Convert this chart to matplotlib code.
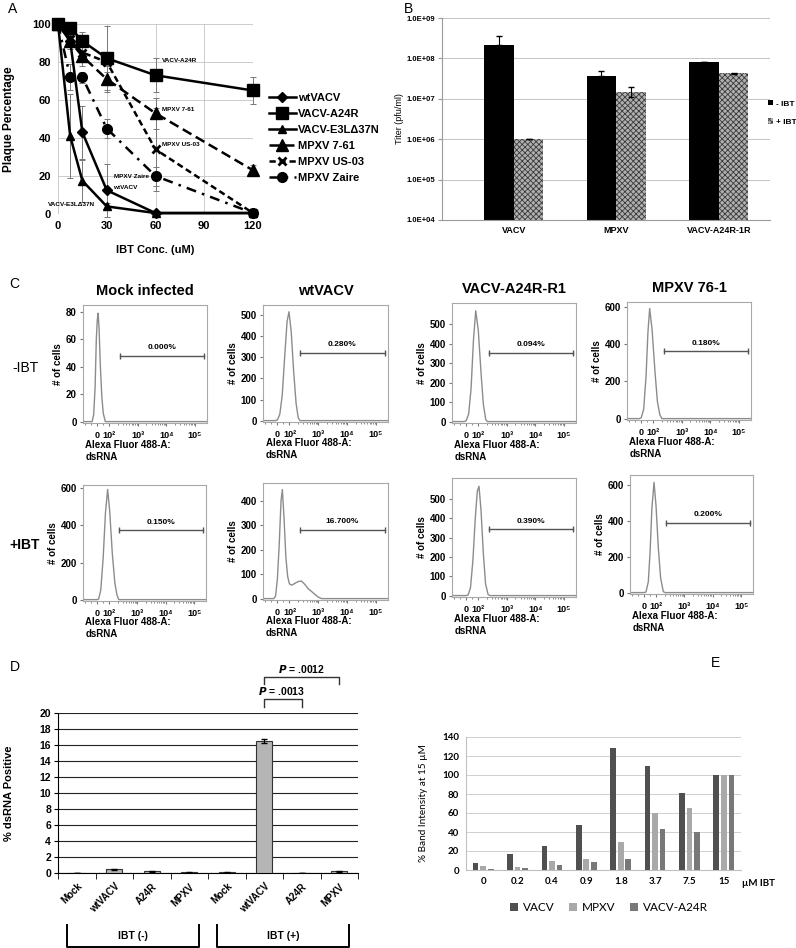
import numpy as np
import matplotlib
matplotlib.use('Agg')
import matplotlib.pyplot as plt
from matplotlib.ticker import FuncFormatter
from matplotlib.patches import Patch

plt.rcParams.update({
    'font.family': ['Liberation Sans', 'DejaVu Sans'],
    'font.weight': 'bold',
    'axes.titleweight': 'bold',
    'axes.labelweight': 'bold',
    'hatch.linewidth': 0.6,
})

# ---- panel A: plaque percentage vs IBT ----
ibt_conc = [0, 7.5, 15, 30, 60, 120]
wt_vacv = [100, 91, 43, 12.5, 0.5, 0.5]
wt_vacv_err = [0, 3, 14, 14, 0, 0]
vacv_a24r = [100, 98, 91, 82, 73, 65]
vacv_a24r_err = [0, 2, 5, 17, 9, 7]
vacv_e3l = [100, 41, 17.5, 4, 0.5, 0.5]
vacv_e3l_err = [0, 22, 11, 2, 0, 0]
mpxv_761 = [100, 91, 83, 71, 53, 23]
mpxv_761_err = [0, 4, 5, 7, 8, 3]
mpxv_us03 = [100, 92, 85, 80, 34, 0.5]
mpxv_us03_err = [0, 3, 4, 5, 22, 0]
mpxv_zaire = [100, 72, 72, 45, 20, 0.5]
mpxv_zaire_err = [0, 7, 3, 5, 5, 0]

# ---- panel B: titers ----
titer_groups = ['VACV', 'MPXV', 'VACV-A24R-1R']
titer_minus = [2.2e8, 3.6e7, 8.0e7]
titer_minus_err = [1.3e8, 1.4e7, 3e6]
titer_plus = [1.0e6, 1.5e7, 4.3e7]
titer_plus_err_lo = [0, 4e6, 1.5e6]
titer_plus_err_hi = [0, 5e6, 1.5e6]

# ---- panel C: flow histograms (x = fluorescence, n = # of cells) ----
flow_titles = ['Mock infected', 'wtVACV', 'VACV-A24R-R1', 'MPXV 76-1']
mock_neg_x = [-120, -43, -30, -18, -8, 0, 7, 15, 25, 38, 50, 67, 262144]
mock_neg_n = [0, 0, 5, 25, 60, 74, 79, 68, 42, 18, 6, 0, 0]
wt_neg_x = [-120, -20, 0, 20, 40, 60, 80, 96, 115, 140, 170, 200, 230, 262144]
wt_neg_n = [0, 0, 3, 30, 120, 300, 470, 516, 420, 230, 80, 15, 0, 0]
a24r_neg_x = [-120, -15, 0, 20, 40, 60, 79, 100, 125, 150, 183, 210, 262144]
a24r_neg_n = [0, 0, 5, 40, 170, 420, 570, 470, 250, 90, 10, 0, 0]
mpxv_neg_x = [-120, -15, 0, 20, 40, 55, 70, 90, 115, 140, 170, 200, 262144]
mpxv_neg_n = [0, 0, 5, 50, 230, 460, 593, 480, 250, 90, 20, 0, 0]
mock_pos_x = [-120, 0, 12, 30, 50, 70, 88, 105, 130, 160, 190, 220, 262144]
mock_pos_n = [0, 0, 3, 50, 220, 470, 594, 480, 250, 90, 25, 0, 0]
wt_pos_x = [-120, -30, -15, 0, 15, 30, 41, 55, 70, 85, 100, 120, 150, 200,
            259, 330, 450, 575, 750, 1000, 1300, 262144]
wt_pos_n = [0, 0, 10, 80, 220, 400, 447, 330, 170, 90, 60, 55, 62, 70,
            72, 60, 40, 30, 18, 6, 0, 0]
a24r_pos_x = [-120, 0, 15, 35, 55, 75, 92, 106, 125, 150, 180, 221, 260, 262144]
a24r_pos_n = [0, 0, 3, 40, 180, 400, 540, 565, 440, 220, 60, 5, 0, 0]
mpxv_pos_x = [-120, 0, 15, 35, 50, 65, 83, 100, 120, 145, 180, 210, 262144]
mpxv_pos_n = [0, 0, 3, 60, 230, 470, 613, 480, 250, 80, 5, 0, 0]
gate_x = [230, 2.0e5]
gate_level = [48, 322, 355, 363, 373, 282, 342, 387]
gate_pct = ['0.000%', '0.280%', '0.094%', '0.180%',
            '0.150%', '16.700%', '0.390%', '0.200%']

# ---- panel D: % dsRNA positive ----
ds_labels = ['Mock', 'wtVACV', 'A24R', 'MPXV', 'Mock', 'wtVACV', 'A24R', 'MPXV']
ds_values = [0.0, 0.45, 0.2, 0.08, 0.08, 16.5, 0.04, 0.2]
ds_err = [0.0, 0.05, 0.05, 0.02, 0.02, 0.2, 0.01, 0.05]

# ---- panel E: band intensity ----
band_conc = ['0', '0.2', '0.4', '0.9', '1.8', '3.7', '7.5', '15']
band_vacv = [7, 17, 25, 47, 128, 110, 81, 100]
band_mpxv = [4.5, 3, 10, 12, 30, 60, 65, 100]
band_a24r = [1.5, 2.5, 5, 8, 12, 43, 40, 100]

W, H = 796, 948
fig = plt.figure(figsize=(W / 100, H / 100), dpi=100)


def box(l, t, r, b):
    return [l / W, 1 - b / H, (r - l) / W, (b - t) / H]


def letter(x, y, s):
    fig.text(x / W, 1 - y / H, s, fontsize=10, fontweight='normal', va='center', ha='left')


letter(8, 9, 'A')
letter(404, 9, 'B')
letter(9, 284, 'C')
letter(10, 667, 'D')
letter(711, 663, 'E')

# ================= A =================
ax = fig.add_axes(box(58, 24, 253, 214))
a_series = [
    (wt_vacv, wt_vacv_err, 'wtVACV', 'D', 5.5, '-'),
    (vacv_a24r, vacv_a24r_err, 'VACV-A24R', 's', 8, '-'),
    (vacv_e3l, vacv_e3l_err, 'VACV-E3L\u039437N', '^', 5.5, '-'),
    (mpxv_761, mpxv_761_err, 'MPXV 7-61', '^', 8, (0, (4, 2))),
    (mpxv_us03, mpxv_us03_err, 'MPXV US-03', 'x', 6, (0, (2.5, 1.5))),
    (mpxv_zaire, mpxv_zaire_err, 'MPXV Zaire', 'o', 7, (0, (4, 2.5, 1, 2.5))),
]
for vals, err, name, mk, ms, ls in a_series:
    ax.errorbar(ibt_conc, vals, yerr=err, fmt='none', ecolor='#777777',
                elinewidth=0.7, capsize=2, capthick=0.7, clip_on=False)
for vals, err, name, mk, ms, ls in a_series:
    ax.plot(ibt_conc, vals, color='black', lw=1.8, linestyle=ls, marker=mk, ms=ms,
            mew=2 if mk == 'x' else 1, clip_on=False, label=name, zorder=3)
ax.set_xlim(0, 120)
ax.set_ylim(0, 100)
ax.set_xticks([0, 30, 60, 90, 120])
ax.set_yticks([0, 20, 40, 60, 80, 100])
ax.grid(color='#c4c4c4', lw=0.6)
for s in ax.spines.values():
    s.set_visible(False)
ax.tick_params(length=0, labelsize=8, pad=5)
ax.set_xlabel('IBT Conc. (uM)', fontsize=8, labelpad=10)
ax.set_ylabel('Plaque Percentage', fontsize=8.5)
ax.yaxis.set_label_coords(-0.22, 0.5)
ax.legend(loc='center left', bbox_to_anchor=(1.03, 0.4), frameon=False, fontsize=8,
          handlelength=2.4, handletextpad=0.25, labelspacing=0.55)
small = dict(fontsize=4.6, fontweight='bold')
ax.text(64, 80, 'VACV-A24R', **small)
ax.text(64, 54, 'MPXV 7-61', **small)
ax.text(64, 36, 'MPXV US-03', **small)
ax.text(56, 20, 'MPXV Zaire', ha='right', va='center', **small)
ax.text(34, 13, 'wtVACV', **small)
ax.text(-6, 4, 'VACV-E3L\u039437N', **small)

# ================= B =================
ax = fig.add_axes(box(442, 18, 770, 220))
ax.set_yscale('log')
xb = np.arange(len(titer_groups))
bw = 0.29
ax.bar(xb - bw / 2, titer_minus, bw, color='black', zorder=2)
ax.bar(xb + bw / 2, titer_plus, bw, color='#b0b0b0', edgecolor='#3a3a3a', hatch='xxxxxx',
       lw=0, zorder=2)
ax.errorbar(xb - bw / 2, titer_minus, yerr=[[0] * 3, titer_minus_err], fmt='none',
            ecolor='black', elinewidth=0.8, capsize=2, zorder=3)
ax.errorbar(xb + bw / 2, titer_plus, yerr=[titer_plus_err_lo, titer_plus_err_hi], fmt='none',
            ecolor='black', elinewidth=0.8, capsize=2, zorder=3)
ax.set_ylim(1e4, 1e9)
ax.set_xlim(-0.7, 2.5)
ax.set_yticks([1e4, 1e5, 1e6, 1e7, 1e8, 1e9])
ax.yaxis.set_minor_locator(plt.NullLocator())
ax.yaxis.set_major_formatter(FuncFormatter(lambda v, p: f'{v:.1E}'))
ax.set_xticks(xb)
ax.set_xticklabels(titer_groups)
ax.grid(axis='y', color='#c4c4c4', lw=0.7, zorder=0)
for s in ('top', 'right'):
    ax.spines[s].set_visible(False)
for s in ('left', 'bottom'):
    ax.spines[s].set_color('#9a9a9a')
ax.tick_params(axis='y', labelsize=5.5, length=3, color='#9a9a9a', pad=2)
ax.tick_params(axis='x', labelsize=6.5, length=0, pad=4)
ax.set_ylabel('Titer (pfu/ml)', fontsize=6.5, fontweight='normal')
ax.yaxis.set_label_coords(-0.115, 0.5)
ax.legend(handles=[Patch(facecolor='black', label='- IBT'),
                   Patch(facecolor='#b0b0b0', edgecolor='#3a3a3a', hatch='xxxxxx', lw=0,
                         label='+ IBT')],
          loc='center left', bbox_to_anchor=(0.99, 0.53), frameon=False, fontsize=6,
          handlelength=0.6, handleheight=0.6, handletextpad=0.3, labelspacing=1.3,
          borderpad=0, borderaxespad=0.2)

# ================= C =================
flow_data = [
    (mock_neg_x, mock_neg_n), (wt_neg_x, wt_neg_n), (a24r_neg_x, a24r_neg_n),
    (mpxv_neg_x, mpxv_neg_n), (mock_pos_x, mock_pos_n), (wt_pos_x, wt_pos_n),
    (a24r_pos_x, a24r_pos_n), (mpxv_pos_x, mpxv_pos_n),
]
flow_boxes = [
    ((83, 305, 207, 423), [0, 20, 40, 60, 80], 85),
    ((263, 305, 388, 422), [0, 100, 200, 300, 400, 500], 548),
    ((452, 303, 576, 423), [0, 100, 200, 300, 400, 500], 610),
    ((627, 302, 751, 420), [0, 200, 400, 600], 628),
    ((83, 485, 206, 601), [0, 200, 400, 600], 618),
    ((263, 483, 388, 600), [0, 100, 200, 300, 400], 474),
    ((452, 478, 576, 597), [0, 100, 200, 300, 400, 500], 608),
    ((630, 475, 753, 594), [0, 200, 400, 600], 654),
]
minor_x = [-100, -50, 50] + [m * 10 ** e for e in (2, 3, 4) for m in range(2, 10)]
for i, ((hx, hn), (rect, yt, ytop)) in enumerate(zip(flow_data, flow_boxes)):
    ax = fig.add_axes(box(*rect))
    ax.plot(hx, hn, color='#8c8c8c', lw=1.0)
    ax.set_xscale('symlog', linthresh=100, linscale=0.378)
    ax.set_xlim(-120, 262144)
    ax.set_ylim(-0.012 * ytop, ytop)
    ax.set_xticks([0, 1e2, 1e3, 1e4, 1e5])
    ax.set_xticklabels(['0', '10\u00b2', '10\u00b3', '10\u2074', '10\u2075'])
    ax.set_xticks(minor_x, minor=True)
    ax.set_yticks(yt)
    for s in ax.spines.values():
        s.set_color('#a8a8a8')
        s.set_linewidth(0.8)
    ax.tick_params(labelsize=7, length=2.5, color='#777777', pad=2)
    ax.tick_params(axis='x', labelsize=6.5, pad=3)
    ax.tick_params(which='minor', length=1.5, color='#777777')
    gl = gate_level[i]
    ax.plot(gate_x, [gl, gl], color='#555555', lw=1.0, marker='|', ms=5, mew=1.0)
    ax.text(np.sqrt(gate_x[0] * gate_x[1]), gl + 0.04 * ytop, gate_pct[i],
            ha='center', va='bottom', fontsize=6)
    ax.set_ylabel('# of cells', fontsize=7, labelpad=2)
    ax.text(0.02, -0.14, 'Alexa Fluor 488-A:\ndsRNA', transform=ax.transAxes,
            ha='left', va='top', fontsize=7, linespacing=1.25)
    if i < 4:
        ax.set_title(flow_titles[i], fontsize=10.5, pad=7)
fig.text(12 / W, 1 - 368 / H, '-IBT', fontsize=10, fontweight='normal', va='center')
fig.text(9 / W, 1 - 545 / H, '+IBT', fontsize=10, va='center')

# ================= D =================
ax = fig.add_axes(box(58, 713, 358, 873))
xd = np.arange(len(ds_values))
ax.bar(xd, ds_values, 0.43, color='#b5b5b5', edgecolor='#333333', lw=0.8, zorder=3)
ax.errorbar(xd, ds_values, yerr=ds_err, fmt='none', ecolor='black', elinewidth=0.8,
            capsize=2, zorder=4)
ax.set_xlim(-0.5, 7.5)
ax.set_ylim(0, 20)
ax.set_yticks(range(0, 21, 2))
ax.grid(axis='y', color='#222222', lw=0.8, zorder=0)
ax.set_xticks(xd)
ax.set_xticklabels(ds_labels, rotation=45, ha='right', rotation_mode='anchor')
ax.set_xticks(np.arange(-0.5, 8, 1), minor=True)
for s in ('top', 'right'):
    ax.spines[s].set_visible(False)
ax.tick_params(axis='x', which='major', length=0, labelsize=7, pad=6)
ax.tick_params(axis='x', which='minor', length=4)
ax.tick_params(axis='y', labelsize=7.5, length=3, pad=2)
ax.set_ylabel('% dsRNA Positive', fontsize=8)
ax.yaxis.set_label_coords(-0.145, 0.5)
# significance brackets
ax.plot([5, 5, 6, 6], [20.75, 21.75, 21.75, 20.75], color='#333333', lw=1, clip_on=False)
ax.plot([5, 5, 7, 7], [23.6, 24.5, 24.5, 23.6], color='#333333', lw=1, clip_on=False)
ax.text(5.45, 22.0, r'$\bfit{P}$ = .0013', ha='center', va='bottom', fontsize=7.5)
ax.text(6.0, 24.75, r'$\bfit{P}$ = .0012', ha='center', va='bottom', fontsize=7.5)
# treatment brackets
for g0, g1, lab in [(0, 3, 'IBT (-)'), (4, 7, 'IBT (+)')]:
    ax.plot([g0 - 0.27, g0 - 0.27, g1 + 0.26, g1 + 0.26], [-6.5, -9.25, -9.25, -6.5],
            color='black', lw=1.4, clip_on=False)
    ax.text((g0 + g1) / 2, -7.9, lab, ha='center', va='center', fontsize=7.5)

# ================= E =================
ax = fig.add_axes(box(466, 737, 741, 870))
xe = np.arange(len(band_conc))
pitch = 0.22
bwe = 0.165
e_colors = ['#505050', '#a9a9a9', '#787878']
for k, (vals, name) in enumerate([(band_vacv, 'VACV'), (band_mpxv, 'MPXV'),
                                  (band_a24r, 'VACV-A24R')]):
    ax.bar(xe + (k - 1) * pitch, vals, bwe, color=e_colors[k], label=name, zorder=3)
ax.set_xlim(-0.5, 7.5)
ax.set_ylim(0, 140)
ax.set_yticks(range(0, 141, 20))
ax.set_xticks(xe)
ax.set_xticklabels(band_conc)
ax.grid(axis='y', color='#d0d0d0', lw=0.7, zorder=0)
for s in ('top', 'right'):
    ax.spines[s].set_visible(False)
for s in ('left', 'bottom'):
    ax.spines[s].set_color('#c0c0c0')
for lab in ax.get_xticklabels() + ax.get_yticklabels():
    lab.set_family(['Lato', 'DejaVu Sans'])
ax.tick_params(length=0, labelsize=7, pad=5)
ax.set_ylabel('% Band Intensity at 15 \u00b5M', fontsize=7.2, fontweight='normal',
              family=['Lato', 'DejaVu Sans'])
ax.yaxis.set_label_coords(-0.14, 0.5)
ax.text(1.003, -0.105, '\u00b5M IBT', transform=ax.transAxes, ha='left', va='center',
        fontsize=7, family=['Lato', 'DejaVu Sans'])
ax.legend(loc='upper center', bbox_to_anchor=(0.52, -0.16), ncol=3, frameon=False,
          prop={'family': ['Lato', 'DejaVu Sans'], 'size': 8.5, 'weight': 'normal'},
          handlelength=0.7, handleheight=0.7, handletextpad=0.4, columnspacing=1.2)

fig.savefig('out.png', dpi=100)
